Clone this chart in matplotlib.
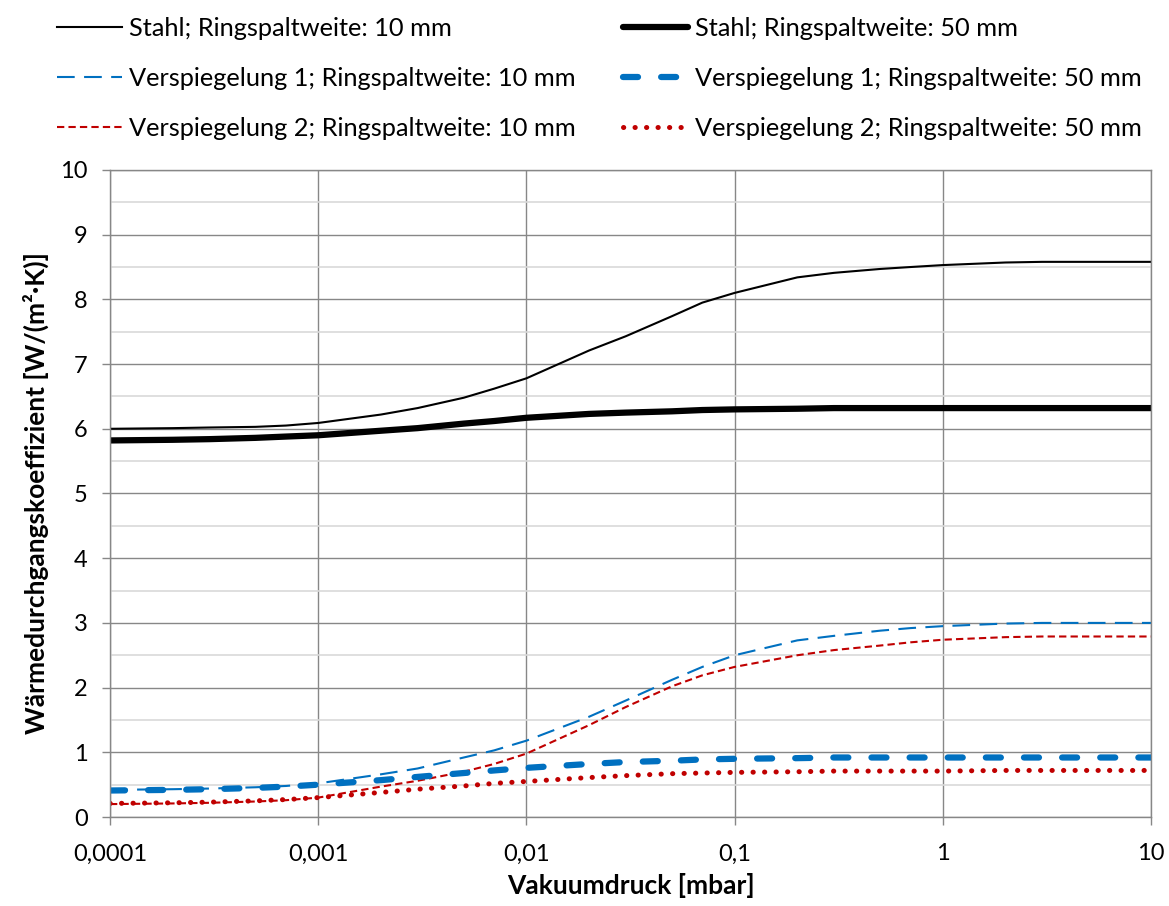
import numpy as np
import matplotlib
matplotlib.use("Agg")
import matplotlib.pyplot as plt
import matplotlib.ticker as mtick

# Vakuumdruck [mbar]
druck = [1e-4, 2e-4, 3e-4, 5e-4, 7e-4,
         1e-3, 2e-3, 3e-3, 5e-3, 7e-3,
         1e-2, 2e-2, 3e-2, 5e-2, 7e-2,
         0.1, 0.2, 0.3, 0.5, 0.7,
         1, 2, 3, 5, 7, 10]

# Waermedurchgangskoeffizient [W/(m2K)]
stahl_10 = [6.00, 6.01, 6.02, 6.03, 6.05,
            6.09, 6.22, 6.32, 6.48, 6.62,
            6.78, 7.21, 7.43, 7.74, 7.95,
            8.10, 8.34, 8.41, 8.47, 8.50,
            8.53, 8.57, 8.58, 8.58, 8.58, 8.58]
stahl_50 = [5.82, 5.83, 5.84, 5.86, 5.88,
            5.90, 5.97, 6.01, 6.08, 6.12,
            6.17, 6.23, 6.25, 6.27, 6.29,
            6.30, 6.31, 6.32, 6.32, 6.32,
            6.32, 6.32, 6.32, 6.32, 6.32, 6.32]
versp1_10 = [0.42, 0.43, 0.44, 0.46, 0.48,
             0.52, 0.66, 0.75, 0.92, 1.03,
             1.18, 1.55, 1.80, 2.12, 2.32,
             2.50, 2.73, 2.80, 2.88, 2.92,
             2.95, 2.99, 3.00, 3.00, 3.00, 3.00]
versp1_50 = [0.41, 0.42, 0.43, 0.45, 0.47,
             0.50, 0.57, 0.62, 0.68, 0.72,
             0.76, 0.82, 0.85, 0.87, 0.89,
             0.90, 0.91, 0.92, 0.92, 0.92,
             0.92, 0.92, 0.92, 0.92, 0.92, 0.92]
versp2_10 = [0.20, 0.21, 0.22, 0.24, 0.26,
             0.30, 0.47, 0.56, 0.70, 0.82,
             0.98, 1.42, 1.70, 2.02, 2.19,
             2.32, 2.50, 2.58, 2.65, 2.70,
             2.74, 2.78, 2.79, 2.79, 2.79, 2.79]
versp2_50 = [0.21, 0.22, 0.23, 0.25, 0.27,
             0.30, 0.38, 0.43, 0.48, 0.52,
             0.55, 0.61, 0.64, 0.67, 0.68,
             0.69, 0.70, 0.71, 0.71, 0.71,
             0.71, 0.72, 0.72, 0.72, 0.72, 0.72]

x_ticks = [1e-4, 1e-3, 1e-2, 0.1, 1, 10]
x_labels = ["0,0001", "0,001", "0,01", "0,1", "1", "10"]

plt.rcParams['font.family'] = ['Lato', 'DejaVu Sans']

blue = "#0070C0"
red = "#C00000"

fig = plt.figure(figsize=(11.69, 9.06), dpi=100)
ax = fig.add_axes([0.0941, 0.0982, 0.8905, 0.7142])

l1, = ax.plot(druck, stahl_10, color="black", lw=1.5, label="Stahl; Ringspaltweite: 10 mm")
l2, = ax.plot(druck, versp1_10, color=blue, lw=1.5, dashes=(8.5, 4.5), label="Verspiegelung 1; Ringspaltweite: 10 mm")
l3, = ax.plot(druck, versp2_10, color=red, lw=1.5, dashes=(3.5, 2.0), label="Verspiegelung 2; Ringspaltweite: 10 mm")
l4, = ax.plot(druck, stahl_50, color="black", lw=4.5, solid_capstyle="round", label="Stahl; Ringspaltweite: 50 mm")
l5, = ax.plot(druck, versp1_50, color=blue, lw=4.5, dashes=(2.4, 3.7), dash_capstyle="round", label="Verspiegelung 1; Ringspaltweite: 50 mm")
l6, = ax.plot(druck, versp2_50, color=red, lw=3.6, dashes=(0.05, 2.25), dash_capstyle="round", label="Verspiegelung 2; Ringspaltweite: 50 mm")

ax.set_xscale("log")
ax.set_xlim(1e-4, 10)
ax.set_ylim(0, 10)
ax.xaxis.set_major_locator(mtick.FixedLocator(x_ticks))
ax.xaxis.set_major_formatter(mtick.FixedFormatter(x_labels))
ax.xaxis.set_minor_locator(mtick.NullLocator())
ax.yaxis.set_major_locator(mtick.MultipleLocator(1))
ax.yaxis.set_minor_locator(mtick.MultipleLocator(0.5))

ax.grid(True, which="major", color="#878787", lw=1.0)
ax.grid(True, which="minor", axis="y", color="#d9d9d9", lw=1.2)
ax.set_axisbelow(True)
for s in ax.spines.values():
    s.set_color("#878787")
    s.set_linewidth(1.0)

ax.tick_params(axis="both", which="major", direction="out", length=6, width=1.0, color="#878787",
               labelsize=17, pad=10)
ax.tick_params(axis="y", which="minor", length=0)
ax.tick_params(axis="x", pad=13)

ax.set_xlabel("Vakuumdruck [mbar]", fontsize=19, fontweight="bold", labelpad=6)
ax.set_ylabel("Wärmedurchgangskoeffizient [W/(m²·K)]", fontsize=19, fontweight="bold", labelpad=8)

leg_kw = dict(loc="upper left", frameon=False, fontsize=18.3, handlelength=2.56, handletextpad=0.27,
              labelspacing=1.07, borderpad=0, borderaxespad=0)
leg1 = fig.legend(handles=[l1, l2, l3], bbox_to_anchor=(57 / 1169, 1 - 17 / 906), **leg_kw)
leg2 = fig.legend(handles=[l4, l5, l6], bbox_to_anchor=(623 / 1169, 1 - 17 / 906), **leg_kw)

fig.savefig("out.png", dpi=100)
